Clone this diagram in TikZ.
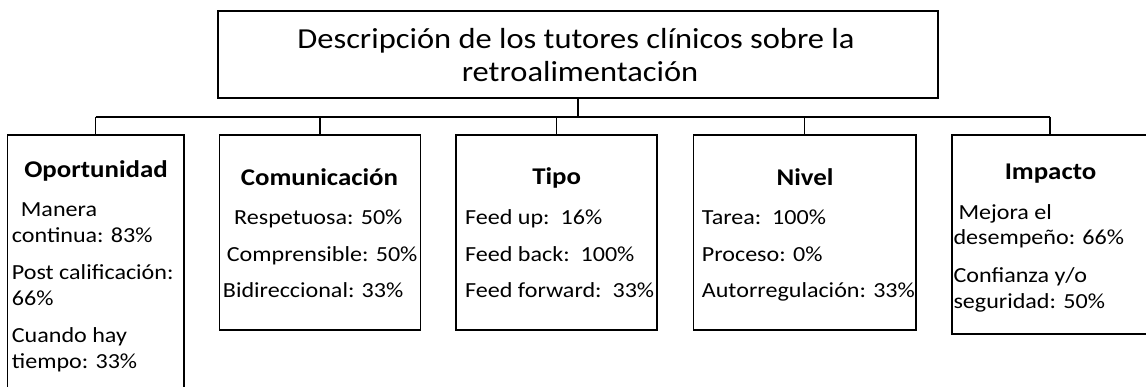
\documentclass[tikz,border=0pt]{standalone}
\usepackage{fontspec}
\setmainfont{Carlito}[FakeStretch=1.12]
\newcommand\mytitlefont{\fontsize{29}{35}\selectfont}
\newcommand\myheadfont{\fontsize{24}{29}\selectfont\bfseries}
\newcommand\mybodyfont{\fontsize{21.5}{26}\selectfont}
\begin{document}
\begin{tikzpicture}[x=1pt,y=-1pt,
  catbox/.style={draw=black, line width=1.8pt, inner sep=0pt, fill=none},
  conn/.style={draw=black, line width=1.4pt},
  stub/.style={draw=black, line width=2.6pt},
  titletxt/.style={font=\mytitlefont, anchor=base, inner sep=0pt},
  headtxt/.style={font=\myheadfont, anchor=base, inner sep=0pt},
  bodytxt/.style={font=\mybodyfont, anchor=base west, inner sep=0pt}]
\fill[white] (0,0) rectangle (1146,387);
\useasboundingbox (0,0) rectangle (1146,387);

% boxes
\node[catbox, minimum width=720.6pt, minimum height=87.3pt] (title) at (578,54.65) {};
\node[catbox, minimum width=176.5pt, minimum height=270pt] (bop) at (95.7,270) {};
\node[catbox, minimum width=201pt, minimum height=195pt] (bco) at (320,232.5) {};
\node[catbox, minimum width=201pt, minimum height=195pt] (bti) at (556.5,232.5) {};
\node[catbox, minimum width=222.5pt, minimum height=195pt] (bni) at (804.75,232.5) {};
\node[catbox, minimum width=196.6pt, minimum height=199.3pt] (bim) at (1050,234.65) {};

% connectors
\coordinate (hub) at (578,117);
\draw[stub] (title.south) -- (hub);
\draw[conn] (bop.north |- hub) -- (bim.north |- hub);
\draw[conn] (bop.north |- hub) -- (bop.north);
\draw[conn] (bco.north |- hub) -- (bco.north);
\draw[conn] (bti.north |- hub) -- (bti.north);
\draw[conn] (bni.north |- hub) -- (bni.north);
\draw[conn] (bim.north |- hub) -- (bim.north);

% title
\node[titletxt] (t1) at (576,48.3) {Descripción de los tutores clínicos sobre la};
\node[titletxt] (t2) at (580,81.7) {retroalimentación};

% Oportunidad
\node[headtxt] (hop) at (96,178) {Oportunidad};
\node[bodytxt] (op1) at (20.7,216.7) {Manera};
\node[bodytxt] (op2) at (11.7,242.7) {continua: 83\%};
\node[bodytxt] (op3) at (11.7,280) {Post calificación:};
\node[bodytxt] (op4) at (11.7,306) {66\%};
\node[bodytxt] (op5) at (11.7,342.5) {Cuando hay};
\node[bodytxt] (op6) at (11.7,368) {tiempo: 33\%};

% Comunicacion
\node[headtxt] (hco) at (319.5,186) {Comunicación};
\node[bodytxt] (co1) at (234,225) {Respetuosa: 50\%};
\node[bodytxt] (co2) at (226.7,261.7) {Comprensible: 50\%};
\node[bodytxt] (co3) at (222.7,297.7) {Bidireccional: 33\%};

% Tipo
\node[headtxt] (hti) at (556.7,185) {Tipo};
\node[bodytxt] (ti1) at (465,225) {Feed up:\ \ 16\%};
\node[bodytxt] (ti2) at (465,261.7) {Feed back:\ \ 100\%};
\node[bodytxt] (ti3) at (465,297.3) {Feed forward:\ \ 33\%};

% Nivel
\node[headtxt] (hni) at (805,185.7) {Nivel};
\node[bodytxt] (ni1) at (701.7,225) {Tarea:\ \ 100\%};
\node[bodytxt] (ni2) at (701.7,261.7) {Proceso: 0\%};
\node[bodytxt] (ni3) at (701.7,297.3) {Autorregulación: 33\%};

% Impacto
\node[headtxt] (him) at (1050.5,180) {Impacto};
\node[bodytxt] (im1) at (958.3,220) {Mejora el};
\node[bodytxt] (im2) at (953.3,244.3) {desempeño: 66\%};
\node[bodytxt] (im3) at (953.3,282.7) {Confianza y/o};
\node[bodytxt] (im4) at (953.3,308.3) {seguridad: 50\%};
\end{tikzpicture}
\end{document}
